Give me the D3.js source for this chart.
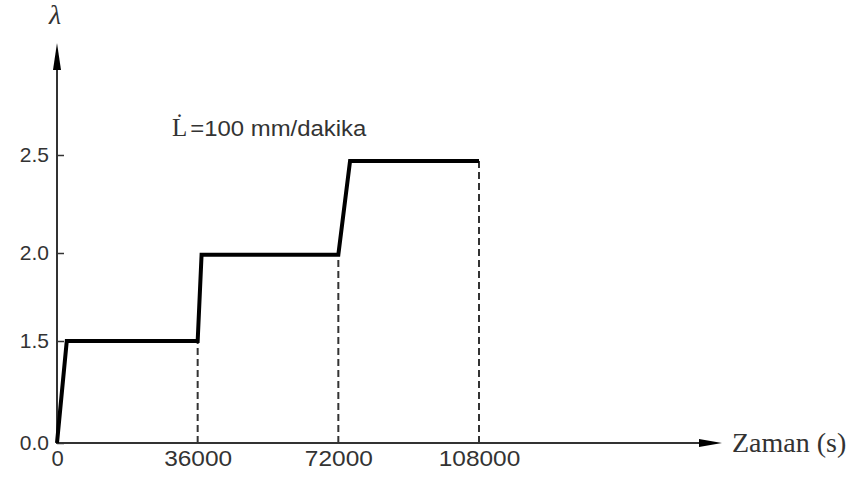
<!DOCTYPE html>
<html>
<head>
<meta charset="utf-8">
<script src="https://cdn.jsdelivr.net/npm/d3@7"></script>
<style>
  html, body { margin: 0; padding: 0; background: #fff; }
  svg { display: block; }
</style>
</head>
<body>
<div id="chart"></div>
<script>
// ---- data ----
const timeSeconds = [0, 2500, 36000, 37000, 72000, 75000, 108000];
const lambdaValues = [0, 1.5, 1.5, 1.99, 1.99, 2.47, 2.47];
const stepEndTimes = [36000, 72000, 108000];
const stepEndLambdas = [1.5, 1.99, 2.47];
const xTickValues = [0, 36000, 72000, 108000];
const yTickValues = [0, 1.5, 2.0, 2.5];
const xAxisTitle = "Zaman (s)";
const yAxisTitle = "λ";
const rateLabelSymbol = "L";
const rateLabelText = "=100 mm/dakika";

const W = 851, H = 477;
const svg = d3.select("#chart").append("svg").attr("width", W).attr("height", H);

// scales (y axis is piecewise, as drawn in the original figure)
const x = d3.scaleLinear().domain([0, 108000]).range([57, 479]);
const y = d3.scaleLinear().domain([0, 1.5, 2.0, 2.5]).range([443, 341, 253, 155]);

const axisColor = "#333";

// dashed guide lines
svg.append("g").selectAll("line").data(stepEndTimes).join("line")
  .attr("x1", d => x(d)).attr("x2", d => x(d))
  .attr("y1", y(0)).attr("y2", (d, i) => y(stepEndLambdas[i]))
  .attr("stroke", "#333").attr("stroke-width", 2)
  .attr("stroke-dasharray", "7,4");

// y axis
const yAxis = d3.axisLeft(y).tickValues(yTickValues).tickFormat(d3.format(".1f"))
  .tickSizeInner(-7).tickSizeOuter(0).tickPadding(8);
const gy = svg.append("g").attr("transform", `translate(${x(0)},0)`).call(yAxis);
gy.select(".domain").remove();
gy.selectAll(".tick line").attr("stroke", axisColor).attr("stroke-width", 1.5);
gy.selectAll(".tick text").attr("font-family", "Liberation Sans, Arial, sans-serif")
  .attr("font-size", 21).attr("fill", "#333");

// x axis
const xAxis = d3.axisBottom(x).tickValues(xTickValues).tickFormat(d3.format("d"))
  .tickSize(0).tickPadding(7);
const gx = svg.append("g").attr("transform", `translate(0,${y(0)})`).call(xAxis);
gx.select(".domain").remove();
gx.selectAll(".tick text").attr("font-family", "Liberation Sans, Arial, sans-serif")
  .attr("font-size", 22).attr("fill", "#333")
  .attr("textLength", d => d === 0 ? null : String(d).length * 13.6)
  .attr("lengthAdjust", "spacingAndGlyphs");

// axis lines with arrows
svg.append("line").attr("x1", x(0)).attr("x2", x(0)).attr("y1", y(0) + 1).attr("y2", 50)
  .attr("stroke", axisColor).attr("stroke-width", 2);
svg.append("path").attr("d", `M${x(0)},43 L${x(0) + 4},70 L${x(0) - 4},70 Z`).attr("fill", "#000");

svg.append("line").attr("x1", x(0)).attr("x2", 712).attr("y1", y(0)).attr("y2", y(0))
  .attr("stroke", axisColor).attr("stroke-width", 2);
svg.append("path").attr("d", `M722,${y(0)} L699,${y(0) - 4} L699,${y(0) + 4} Z`).attr("fill", "#000");

// axis titles
svg.append("text").attr("x", x(0) - 2).attr("y", 24).attr("text-anchor", "middle")
  .attr("font-family", "Liberation Serif, Times New Roman, serif").attr("font-size", 28)
  .attr("font-style", "italic")
  .attr("fill", "#333").text(yAxisTitle);
svg.append("text").attr("x", 732).attr("y", 452)
  .attr("font-family", "Liberation Serif, Times New Roman, serif").attr("font-size", 28)
  .attr("fill", "#333").text(xAxisTitle);

// rate annotation
const ann = svg.append("text").attr("x", 172).attr("y", 136).attr("fill", "#333");
ann.append("tspan").attr("font-family", "Liberation Serif, Times New Roman, serif")
  .attr("font-size", 25).text(rateLabelSymbol + "\u0307");
ann.append("tspan").attr("dx", 3).attr("font-family", "Liberation Sans, Arial, sans-serif")
  .attr("font-size", 22).attr("textLength", 176).attr("lengthAdjust", "spacingAndGlyphs")
  .text(rateLabelText);

// main curve
const line = d3.line().x((d, i) => x(timeSeconds[i])).y(d => y(d));
svg.append("path").datum(lambdaValues).attr("d", line)
  .attr("fill", "none").attr("stroke", "#000").attr("stroke-width", 4)
  .attr("stroke-linejoin", "miter");
</script>
</body>
</html>
